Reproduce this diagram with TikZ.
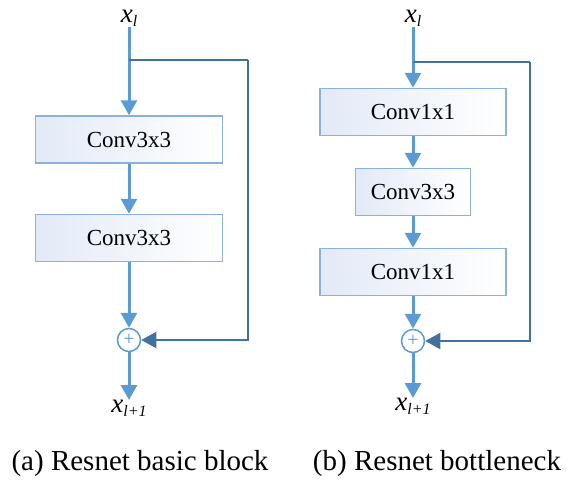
\documentclass[tikz,border=0pt]{standalone}
\usepackage{fontspec}
\setmainfont{Liberation Serif}
\usetikzlibrary{arrows.meta}
\definecolor{mainblue}{RGB}{91,155,213}
\definecolor{darkblue}{RGB}{65,113,156}
\definecolor{boxedge}{RGB}{140,176,220}
\definecolor{boxfill}{RGB}{226,234,247}
\begin{document}
\begin{tikzpicture}[x=1pt,y=-1pt,
 convbox/.style={draw=boxedge, line width=1.5pt, left color=boxfill, right color=white, minimum height=47pt, font=\fontsize{23}{26}\selectfont, inner sep=0pt},
 flow/.style={draw=mainblue, line width=3pt, -{Triangle[width=16pt,length=15pt]}},
 skip/.style={draw=darkblue, line width=2.5pt},
 skiparrow/.style={draw=darkblue, line width=2pt, -{Triangle[width=16pt,length=15pt]}},
 adder/.style={circle, draw=mainblue, line width=1.5pt, fill=white, minimum size=23pt, inner sep=0pt, text=mainblue, font=\fontsize{20}{20}\selectfont},
 var/.style={font=\fontsize{27}{28}\selectfont\itshape, inner sep=0pt},
 caption/.style={font=\fontsize{29}{32}\selectfont}]
\useasboundingbox (0,0) rectangle (567,483);

% ---------- (a) basic block ----------
\node[var] (ain) at (129,18) {x\raisebox{-0.35ex}{\fontsize{16}{17}\selectfont l}};
\node[convbox, minimum width=187pt] (a1) at (129,139.5) {Conv3x3};
\node[convbox, minimum width=187pt] (a2) at (129,238) {Conv3x3};
\node[adder] (aadd) at (129,340) {+};
\node[var, anchor=north] (aout) at (129,400) {x\raisebox{-0.35ex}{\fontsize{16}{17}\selectfont l+1}};
\coordinate (ab1) at (129,60);
\coordinate (ab2) at (248,60);
\coordinate (ab3) at (248,340);

\draw[flow] (ain.south) -- (a1.north);
\draw[flow] (a1.south) -- (a2.north);
\draw[flow] (a2.south) -- (aadd.north);
\draw[flow] (aadd.south) -- (aout.north);
\draw[skip] (ab1) -- (ab2);
\draw[skiparrow] (ab2) -- (ab3) -- (aadd.east);

% ---------- (b) bottleneck ----------
\node[var] (bin) at (413,18) {x\raisebox{-0.35ex}{\fontsize{16}{17}\selectfont l}};
\node[convbox, minimum width=186pt] (b1) at (413,112) {Conv1x1};
\node[convbox, minimum width=115pt] (b2) at (413,192) {Conv3x3};
\node[convbox, minimum width=186pt] (b3) at (413,272) {Conv1x1};
\node[adder] (badd) at (413,341) {+};
\node[var, anchor=north] (bout) at (413,398) {x\raisebox{-0.35ex}{\fontsize{16}{17}\selectfont l+1}};
\coordinate (bb1) at (413,62);
\coordinate (bb2) at (530,62);
\coordinate (bb3) at (530,341);

\draw[flow] (bin.south) -- (b1.north);
\draw[flow] (b1.south) -- (b2.north);
\draw[flow] (b2.south) -- (b3.north);
\draw[flow] (b3.south) -- (badd.north);
\draw[flow] (badd.south) -- (bout.north);
\draw[skip] (bb1) -- (bb2);
\draw[skiparrow] (bb2) -- (bb3) -- (badd.east);

% ---------- captions ----------
\node[caption] (capa) at (140,464) {(a) Resnet basic block};
\node[caption] (capb) at (437,464) {(b) Resnet bottleneck};
\end{tikzpicture}
\end{document}
